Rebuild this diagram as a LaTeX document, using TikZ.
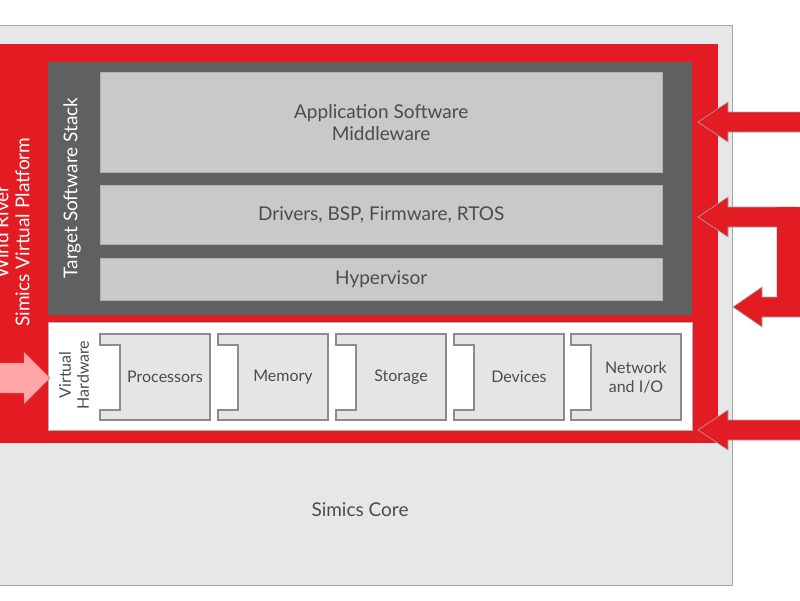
\documentclass[tikz,border=0pt]{standalone}
\usepackage{fontspec}
\setmainfont{Lato}
\begin{document}
\begin{tikzpicture}[x=1pt,y=-1pt,
  lbl/.style={font=\fontsize{19}{22}\selectfont,text=black!70,align=center},
  comp/.style={fill=black!10,draw=black!45,line width=1.2pt},
  rarrow/.style={fill=wrred,draw=black!35,line width=0.6pt}]
\definecolor{wrred}{HTML}{E31B23}
\definecolor{dg}{HTML}{5F6062}
\definecolor{lg}{HTML}{E6E7E8}
\definecolor{mg}{HTML}{C8C9CB}
\useasboundingbox (0,0) rectangle (800,600);
\fill[white] (0,0) rectangle (800,600);
\node[draw=black!35,fill=lg,line width=1pt,minimum width=740,minimum height=560,anchor=north west,inner sep=0] (core) at (-8,25) {};
\node[fill=wrred,minimum width=726,minimum height=399,anchor=north west,inner sep=0] (plat) at (-8,44) {};
\node[fill=dg,minimum width=644,minimum height=253,anchor=north west,inner sep=0] (stack) at (48,62) {};
\node[fill=mg,draw=black!30,minimum width=562,minimum height=100,anchor=north west,inner sep=0,lbl] (app) at (100,72) {Application Software\\Middleware};
\node[fill=mg,draw=black!30,minimum width=562,minimum height=59,anchor=north west,inner sep=0,lbl] (drv) at (100,185) {Drivers, BSP, Firmware, RTOS};
\node[fill=mg,draw=black!30,minimum width=562,minimum height=42,anchor=north west,inner sep=0,lbl] (hyp) at (100,258) {Hypervisor};
\node[fill=white,draw=black!30,minimum width=644,minimum height=108,anchor=north west,inner sep=0] (vh) at (48,322) {};
\node[lbl,text=white,rotate=90,font=\fontsize{19}{21}\selectfont] (tss) at (72,188) {Target Software Stack};
\node[lbl,text=white,rotate=90,font=\fontsize{19}{21}\selectfont] (wr) at (12,232) {Wind River\\Simics Virtual Platform};
\node[lbl,rotate=90,font=\fontsize{16}{18}\selectfont] (vhl) at (74,375) {Virtual\\Hardware};
\foreach \x/\t/\n in {100/Processors/p,218/Memory/m,336/Storage/s,454/Devices/d,571/{Network\\and I/O}/n}{
  \draw[comp] (\x,334) -- (\x+110,334) -- (\x+110,420) -- (\x,420) -- (\x,410) -- (\x+20,410) -- (\x+20,345) -- (\x,345) -- cycle;
  \node[lbl,font=\fontsize{16}{19}\selectfont] (\n) at (\x+65,377) {\t};
}
\node[lbl] (sc) at (360,510) {Simics Core};
% right arrows
\draw[rarrow] (801,112) -- (728,112) -- (728,102) -- (698,122) -- (728,142) -- (728,132) -- (801,132);
\draw[rarrow] (797,207) -- (728,207) -- (728,197) -- (698,217) -- (728,237) -- (728,227) -- (777,227) -- (777,297) -- (762,297) -- (762,287) -- (733,307) -- (762,327) -- (762,317) -- (801,317);
\fill[wrred] (777,296) rectangle (801,207);
\draw[rarrow] (801,420) -- (728,420) -- (728,410) -- (698,430) -- (728,450) -- (728,440) -- (801,440);
% left pink arrow
\draw[fill=red!35!white,draw=red!60!white] (-2,363) -- (24,363) -- (24,352) -- (50,378) -- (24,404) -- (24,393) -- (-2,393) -- cycle;
\end{tikzpicture}
\end{document}
